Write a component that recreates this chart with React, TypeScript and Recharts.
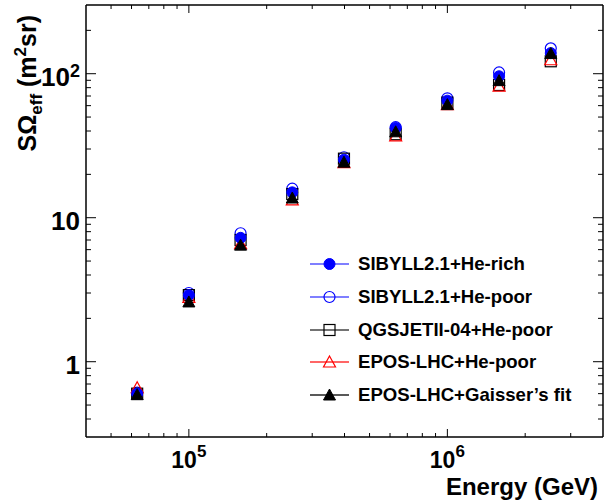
import React from 'react';
import { ScatterChart, Scatter, XAxis, YAxis } from 'recharts';

// Effective aperture vs primary energy, five model/composition assumptions
const energies = [63100, 100000, 158500, 251200, 398100, 631000, 1000000, 1585000, 2512000];

const sibyllRich = [0.6, 2.9, 7.25, 15.0, 25.3, 42, 65, 96, 139];
const sibyllPoor = [0.61, 3.0, 7.8, 15.9, 26.3, 42.5, 67.5, 102, 150];
const qgsjetPoor = [0.6, 2.9, 7.0, 14.6, 25.7, 38, 63, 83.5, 122];
const eposPoor = [0.66, 2.8, 6.6, 13.3, 24.1, 37, 61, 82, 125];
const eposGaisser = [0.59, 2.6, 6.45, 13.7, 24.3, 39.5, 61, 89.5, 138];

const xMajorTicks = [100000, 1000000];
const xMinorTicks = [
  50000, 60000, 70000, 80000, 90000,
  200000, 300000, 400000, 500000, 600000, 700000, 800000, 900000,
  2000000, 3000000,
];
const xTickLabels = [['10', '5'], ['10', '6']];

const yMajorTicks = [1, 10, 100];
const yMinorTicks = [
  0.4, 0.5, 0.6, 0.7, 0.8, 0.9,
  2, 3, 4, 5, 6, 7, 8, 9,
  20, 30, 40, 50, 60, 70, 80, 90,
  200,
];
const yTickLabels = [['1', ''], ['10', ''], ['10', '2']];

const FONT = '"Liberation Sans", Arial, Helvetica, sans-serif';

type Kind = 'dot' | 'circle' | 'square' | 'triangle' | 'triangleFilled';

interface SeriesDef {
  name: string;
  values: number[];
  kind: Kind;
  color: string;
  lineColor: string;
}

// legend order
const series: SeriesDef[] = [
  { name: 'SIBYLL2.1+He-rich', values: sibyllRich, kind: 'dot', color: '#0000ff', lineColor: '#5555ff' },
  { name: 'SIBYLL2.1+He-poor', values: sibyllPoor, kind: 'circle', color: '#0000ff', lineColor: '#5555ff' },
  { name: 'QGSJETII-04+He-poor', values: qgsjetPoor, kind: 'square', color: '#000000', lineColor: '#444444' },
  { name: 'EPOS-LHC+He-poor', values: eposPoor, kind: 'triangle', color: '#ff0000', lineColor: '#ff3333' },
  { name: 'EPOS-LHC+Gaisser\u2019s fit', values: eposGaisser, kind: 'triangleFilled', color: '#000000', lineColor: '#222222' },
];

// draw order (last on top)
const drawOrder = [1, 2, 3, 0, 4];

const Marker = ({ kind, cx, cy, color }: { kind: Kind; cx: number; cy: number; color: string }) => {
  const r = 5.5;
  switch (kind) {
    case 'dot':
      return <circle cx={cx} cy={cy} r={r} fill={color} stroke={color} strokeWidth={1} />;
    case 'circle':
      return <circle cx={cx} cy={cy} r={r} fill="none" stroke={color} strokeWidth={1.2} />;
    case 'square':
      return <rect x={cx - r} y={cy - r} width={2 * r} height={2 * r} fill="none" stroke={color} strokeWidth={1.2} />;
    case 'triangle':
      return (
        <polygon
          points={`${cx},${cy - 6} ${cx + 6},${cy + 5} ${cx - 6},${cy + 5}`}
          fill="none"
          stroke={color}
          strokeWidth={1.2}
        />
      );
    default:
      return (
        <polygon
          points={`${cx},${cy - 6} ${cx + 6},${cy + 5} ${cx - 6},${cy + 5}`}
          fill={color}
          stroke={color}
          strokeWidth={1}
        />
      );
  }
};

// inward ROOT-style ticks, labels only on bottom/left majors
const AxisTick = (props: any) => {
  const { x, y, payload, side } = props;
  const v = payload.value;
  const horizontal = side === 'bottom' || side === 'top';
  const majors = horizontal ? xMajorTicks : yMajorTicks;
  const mi = majors.indexOf(v);
  const len = horizontal ? (mi >= 0 ? 8 : 4) : mi >= 0 ? 10 : 5;
  let x2 = x;
  let y2 = y;
  if (side === 'bottom') y2 = y - len;
  if (side === 'top') y2 = y + len;
  if (side === 'left') x2 = x + len;
  if (side === 'right') x2 = x - len;

  let label = null;
  if (mi >= 0 && side === 'bottom') {
    const [base, exp] = xTickLabels[mi];
    label = (
      <text x={x} y={y + 31} textAnchor="middle" fontFamily={FONT} fontWeight="bold" fontSize={23} fill="#000">
        {base}
        <tspan fontSize={17} dy={-11}>{exp}</tspan>
      </text>
    );
  }
  if (mi >= 0 && side === 'left') {
    const [base, exp] = yTickLabels[mi];
    label = (
      <text x={x - 6} y={y + 12} textAnchor="end" fontFamily={FONT} fontWeight="bold" fontSize={26} fill="#000">
        {base}
        {exp ? <tspan fontSize={18} dy={-9}>{exp}</tspan> : null}
      </text>
    );
  }
  return (
    <g>
      <line x1={x} y1={y} x2={x2} y2={y2} stroke="#000" strokeWidth={1} />
      {label}
    </g>
  );
};

const XTitle = (props: any) => {
  const vb = props.viewBox || { x: 86, y: 437, width: 517 };
  return (
    <text x={vb.x + vb.width - 5} y={vb.y + 58} textAnchor="end" fontFamily={FONT} fontWeight="bold" fontSize={24} fill="#000">
      Energy (GeV)
    </text>
  );
};

const YTitle = (props: any) => {
  const vb = props.viewBox || { x: 85, y: 5 };
  const bx = vb.x - 49;
  const ty = vb.y + 10;
  return (
    <text
      transform={`rotate(-90)`}
      x={-ty}
      y={bx}
      textAnchor="end"
      fontFamily={FONT}
      fontWeight="bold"
      fontSize={25}
      fill="#000"
    >
      SΩ
      <tspan fontSize={17} dy={6}>eff</tspan>
      <tspan dy={-6}> (m</tspan>
      <tspan fontSize={17} dy={-10}>2</tspan>
      <tspan dy={10}>sr)</tspan>
    </text>
  );
};

const Legend = () => (
  <div style={{ position: 'absolute', left: 310, top: 248, fontFamily: FONT, fontWeight: 'bold', fontSize: 18.6 }}>
    {series.map((s) => (
      <div key={s.name} style={{ height: 32.7, display: 'flex', alignItems: 'center' }}>
        <svg width={40} height={20} style={{ display: 'block' }}>
          <line x1={0} y1={10} x2={39} y2={10} stroke={s.lineColor} strokeWidth={1.5} />
          <Marker kind={s.kind} cx={19.5} cy={10} color={s.color} />
        </svg>
        <span style={{ marginLeft: 8, whiteSpace: 'nowrap' }}>{s.name}</span>
      </div>
    ))}
  </div>
);

const allXTicks = [...xMinorTicks, ...xMajorTicks].sort((a, b) => a - b);
const allYTicks = [...yMinorTicks, ...yMajorTicks].sort((a, b) => a - b);

export default function App() {
  const frame = { stroke: '#000', strokeWidth: 1.5 };
  return (
    <div style={{ position: 'absolute', left: 0, top: 0, width: 605, height: 502, background: '#fff' }}>
      <ScatterChart width={605} height={502} margin={{ top: 4, right: 1, bottom: 64, left: 85 }}>
        <XAxis
          xAxisId={0}
          dataKey="energy"
          type="number"
          scale="log"
          domain={[40000, 4000000]}
          allowDataOverflow
          ticks={allXTicks}
          interval={0}
          height={1}
          tickSize={0}
          tickMargin={0}
          tickLine={false}
          axisLine={frame}
          tick={(p: any) => <AxisTick {...p} side="bottom" />}
          label={{ content: (p: any) => <XTitle {...p} /> }}
        />
        <XAxis
          xAxisId="top"
          orientation="top"
          dataKey="energy"
          type="number"
          scale="log"
          domain={[40000, 4000000]}
          allowDataOverflow
          ticks={allXTicks}
          interval={0}
          height={1}
          tickSize={0}
          tickMargin={0}
          tickLine={false}
          axisLine={frame}
          tick={(p: any) => <AxisTick {...p} side="top" />}
        />
        <YAxis
          yAxisId={0}
          dataKey="value"
          type="number"
          scale="log"
          domain={[0.3, 300]}
          allowDataOverflow
          ticks={allYTicks}
          interval={0}
          width={1}
          tickSize={0}
          tickMargin={0}
          tickLine={false}
          axisLine={frame}
          tick={(p: any) => <AxisTick {...p} side="left" />}
          label={{ content: (p: any) => <YTitle {...p} /> }}
        />
        <YAxis
          yAxisId="right"
          orientation="right"
          dataKey="value"
          type="number"
          scale="log"
          domain={[0.3, 300]}
          allowDataOverflow
          ticks={allYTicks}
          interval={0}
          width={1}
          tickSize={0}
          tickMargin={0}
          tickLine={false}
          axisLine={frame}
          tick={(p: any) => <AxisTick {...p} side="right" />}
        />
        {drawOrder.map((i) => {
          const s = series[i];
          const data = energies.map((e, k) => ({ energy: e, value: s.values[k] }));
          return (
            <Scatter
              key={s.name}
              name={s.name}
              data={data}
              xAxisId={0}
              yAxisId={0}
              isAnimationActive={false}
              shape={(p: any) => <Marker kind={s.kind} cx={p.cx} cy={p.cy} color={s.color} />}
            />
          );
        })}
      </ScatterChart>
      <Legend />
    </div>
  );
}
